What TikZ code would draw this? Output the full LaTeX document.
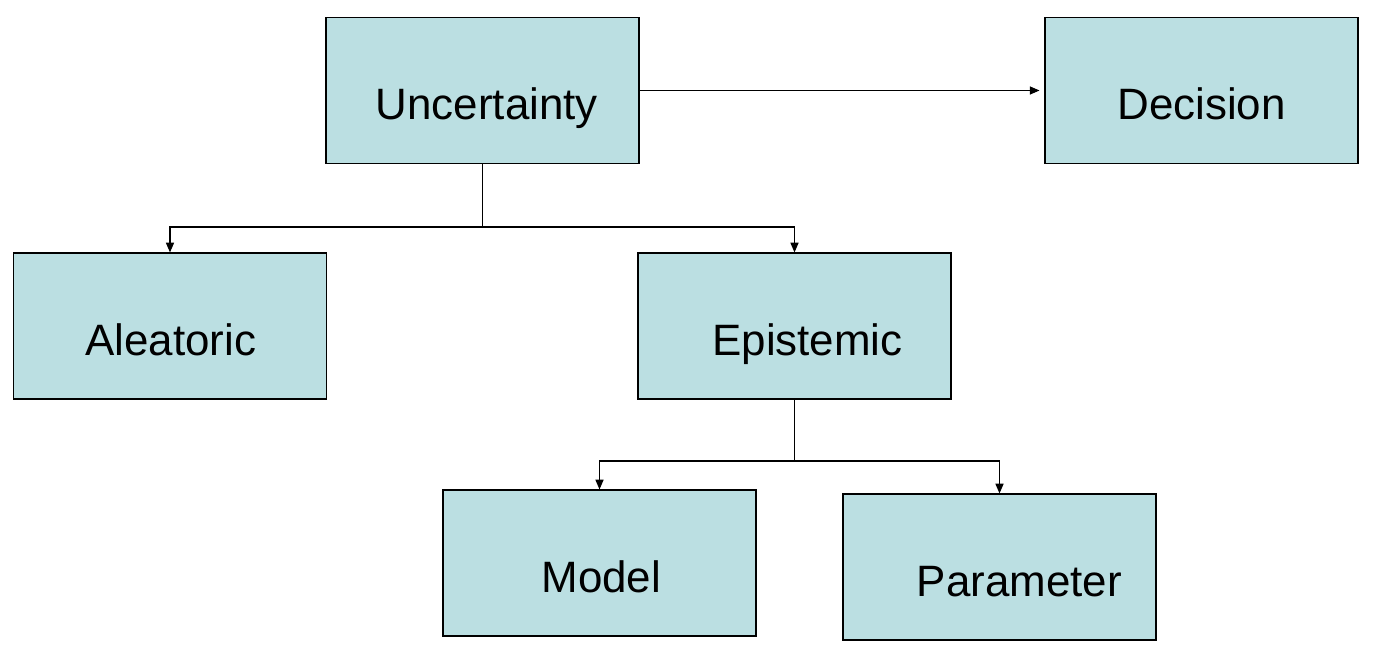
\documentclass[tikz,border=0pt]{standalone}
\usepackage{fontspec}
\setmainfont{Liberation Sans}
\usetikzlibrary{positioning,calc,arrows.meta}

\definecolor{boxfill}{HTML}{BBDFE2}

\begin{document}
\begin{tikzpicture}[x=0.02cm, y=-0.02cm]
	\tikzset{
		box/.style={draw=black, line width=0.7pt, fill=boxfill, minimum width=6.26cm, minimum height=2.92cm, inner sep=0pt},
		txt/.style={font=\fontsize{25}{30}\selectfont, text height=0.75em, text depth=0.22em, inner sep=0pt},
		line/.style={draw=black, line width=0.6pt},
		arr/.style={line, -{Triangle[length=5.5pt, width=4.6pt]}}
	}
	\useasboundingbox (0, 0) rectangle (1375, 665);

	\node[box, label={[txt, xshift=2.5pt, yshift=-14pt]center:Uncertainty}] (unc) at (482.5, 90.5)  {};
	\node[box, label={[txt, xshift=0pt,   yshift=-14pt]center:Decision}]    (dec) at (1201.5, 90.5) {};

	\node[box, label={[txt, xshift=0.5pt, yshift=-14pt]center:Aleatoric}] (ale) at (170, 326)   {};
	\node[box, label={[txt, xshift=7.4pt, yshift=-14pt]center:Epistemic}] (epi) at (794.5, 326) {};

	\node[box, label={[txt, xshift=1pt,    yshift=-14pt]center:Model}]     (mod) at (599.5, 563) {};
	\node[box, label={[txt, xshift=11.3pt, yshift=-14pt]center:Parameter}] (par) at (999.5, 567) {};

	\coordinate (j1) at (482.5, 227);
	\coordinate (j2) at (794.5, 461);

	\draw [arr, shorten >=2.8pt] (unc.east) -- (dec.west);

	\draw [line] (unc.south) -- (j1);
	\draw [arr] (j1) -| (ale.north);
	\draw [arr] (j1) -| (epi.north);

	\draw [line] (epi.south) -- (j2);
	\draw [arr] (j2) -| (mod.north);
	\draw [arr] (j2) -| (par.north);
\end{tikzpicture}
\end{document}
